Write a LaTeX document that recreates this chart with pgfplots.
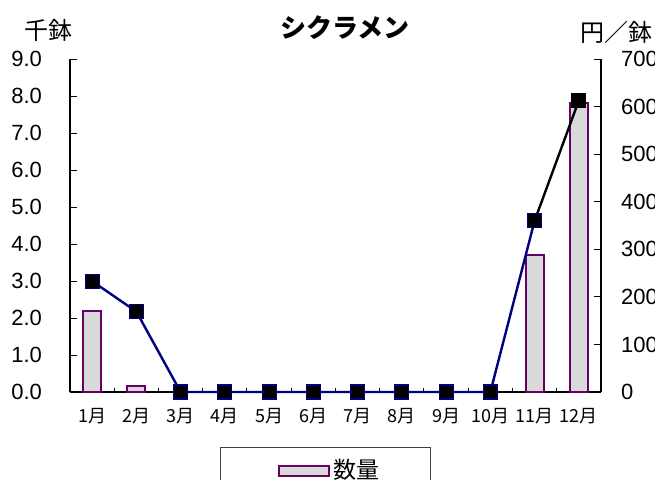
\documentclass[border=0pt]{standalone}
\usepackage{pgfplots}
\pgfplotsset{compat=1.18}
\usepackage{fontspec}
\setmainfont{Liberation Sans}
\newfontfamily\jp{Noto Sans CJK JP}
\definecolor{barpurple}{RGB}{102,0,102}
\definecolor{barfill}{RGB}{217,217,217}
\definecolor{linenavy}{RGB}{0,0,128}
\begin{document}
\begin{tikzpicture}[x=1pt,y=1pt]
\useasboundingbox (0,0) rectangle (327.5,239.5);
\clip (0,0) rectangle (327.5,239.5);
\begin{axis}[
  at={(35pt,43.5pt)}, anchor=south west,
  scale only axis, width=265.5pt, height=166.5pt,
  xmin=0.5, xmax=12.5, ymin=0, ymax=9,
  axis x line*=bottom, axis y line*=left,
  x axis line style={-, line width=0.6pt},
  y axis line style={-, line width=0.6pt},
  tick align=inside,
  xtick={1,...,12},
  xticklabels={1月,2月,3月,4月,5月,6月,7月,8月,9月,10月,11月,12月},
  major x tick style={draw=none},
  minor xtick={1.5,2.5,...,11.5},
  minor tick length=2.2pt,
  major tick length=3.5pt,
  tick style={black, line width=0.5pt},
  ytick={0,1,...,9},
  /pgf/number format/assume math mode=true,
  yticklabel style={/pgf/number format/fixed,/pgf/number format/fixed zerofill,/pgf/number format/precision=1,
     font=\fontsize{11}{13}\selectfont, xshift=-10.5pt},
  xticklabel style={font=\jp\fontsize{9}{10.5}\selectfont, yshift=-4.5pt},
  legend style={at={(0.2825,-0.165)}, anchor=north west, draw=black!75, line width=0.5pt,
     inner xsep=23.5pt, inner ysep=4pt, font=\jp\fontsize{11.5}{13}\selectfont},
  legend image code/.code={\path (0pt,0pt); \draw[fill=barfill,draw=barpurple,line width=1pt] (5pt,-2.5pt) rectangle (30pt,2.5pt);},
]
\addplot[ybar, bar width=0.41, fill=barfill, draw=barpurple, line width=1pt]
  coordinates {(1,2.2) (2,0.16) (11,3.7) (12,7.8)};
\addlegendentry{数量}
\end{axis}
\begin{axis}[
  at={(35pt,43.5pt)}, anchor=south west,
  scale only axis, width=265.5pt, height=166.5pt,
  xmin=0.5, xmax=12.5, ymin=0, ymax=700,
  axis x line=none, axis y line*=right,
  y axis line style={-, line width=0.6pt},
  tick align=inside,
  major tick length=3.5pt,
  tick style={black, line width=0.5pt},
  ytick={0,100,...,700},
  clip=false,
  /pgf/number format/assume math mode=true,
  yticklabel style={font=\fontsize{11}{13}\selectfont, xshift=6.5pt},
]
\addplot[black, line width=1.2pt] coordinates {(11,360) (12,613)};
\addplot[linenavy, line width=1.2pt, mark=square*, mark size=3.5pt, mark options={fill=black, draw=linenavy, line width=0.6pt}]
  coordinates {(1,233) (2,169) (3,0) (4,0) (5,0) (6,0) (7,0) (8,0) (9,0) (10,0) (11,360)};
\addplot[only marks, mark=square*, mark size=3.5pt, mark options={fill=black, draw=black, line width=0.6pt}]
  coordinates {(12,613)};
\end{axis}
\node[font=\jp\bfseries\fontsize{13}{15}\selectfont] at (172.5,225.5) {シクラメン};
\node[font=\jp\fontsize{12}{14}\selectfont] at (24.5,224.5) {千鉢};
\node[font=\jp\fontsize{12}{14}\selectfont, anchor=west, inner sep=0pt] at (290,223.5) {円／鉢};
\end{tikzpicture}
\end{document}
